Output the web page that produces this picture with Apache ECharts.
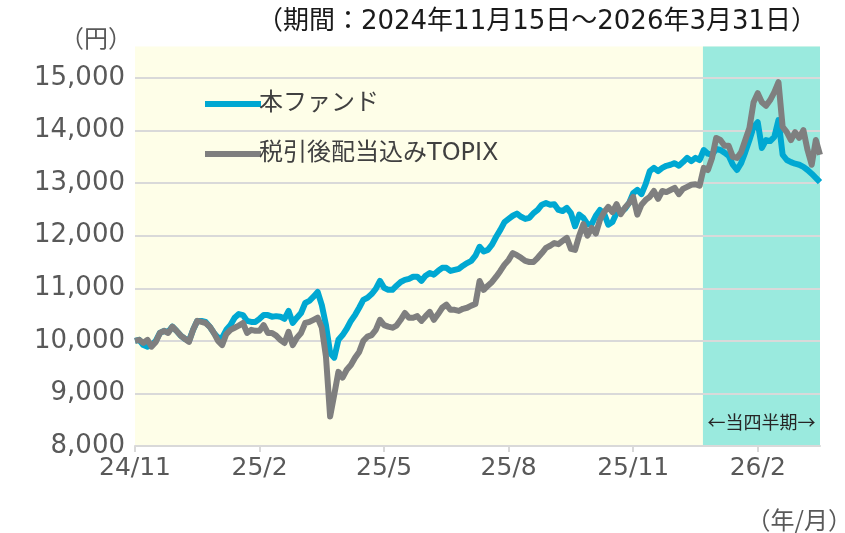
<!DOCTYPE html>
<html>
<head>
<meta charset="utf-8">
<script src="https://cdn.jsdelivr.net/npm/echarts@6/dist/echarts.min.js"></script>
<style>
  html, body { margin: 0; padding: 0; background: #fff; }
  #chart { width: 845px; height: 533px; }
</style>
</head>
<body>
<div id="chart"></div>
<script>
// 基準価額の推移（10,000円スタート）, 2024/11/15 ～ 2026/3/31
var tickLabels = ['24/11', '25/2', '25/5', '25/8', '25/11', '26/2'];
var yTicks = [8000, 9000, 10000, 11000, 12000, 13000, 14000, 15000];
var seriesNames = ['本ファンド', '税引後配当込みTOPIX'];
var quarterStart = 136.8;   // 当四半期の開始位置（x軸の値）

var fundValues = [
  10000, 10020, 9920, 9890, 9920, 10000, 10150, 10190, 10170, 10270,
  10190, 10100, 10040, 10000, 10210, 10380, 10380, 10360, 10270, 10150,
  10060, 10060, 10210, 10300, 10440, 10510, 10490, 10380, 10360, 10360,
  10420, 10490, 10490, 10460, 10470, 10460, 10420, 10570, 10340, 10440,
  10530, 10720, 10760, 10840, 10930, 10680, 10300, 9770, 9680, 10020,
  10110, 10230, 10380, 10490, 10630, 10780, 10820, 10890, 10990, 11140,
  11010, 10970, 10970, 11050, 11120, 11160, 11180, 11220, 11220, 11140,
  11240, 11290, 11260, 11330, 11390, 11390, 11330, 11350, 11370, 11430,
  11480, 11520, 11620, 11790, 11700, 11730, 11830, 11980, 12110, 12260,
  12320, 12380, 12420, 12360, 12320, 12340, 12430, 12490, 12590, 12620,
  12590, 12600, 12490, 12470, 12530, 12430, 12180, 12400, 12340, 12220,
  12220, 12380, 12490, 12420, 12210, 12260, 12430, 12450, 12510, 12620,
  12810, 12870, 12790, 12980, 13230, 13290, 13230, 13290, 13330, 13350,
  13380, 13330, 13400, 13480, 13420, 13480, 13440, 13630, 13560, 13540,
  13650, 13630, 13580, 13520, 13350, 13250, 13380, 13590, 13820, 14070,
  14160, 13670, 13820, 13800, 13880, 14200, 13540, 13440, 13400, 13370,
  13350, 13310, 13250, 13180, 13100, 13020
];

var topixValues = [
  10000, 10020, 9960, 10020, 9890, 9980, 10150, 10190, 10150, 10270,
  10190, 10100, 10040, 9980, 10210, 10380, 10360, 10340, 10270, 10150,
  10000, 9920, 10130, 10210, 10250, 10290, 10340, 10150, 10210, 10190,
  10190, 10300, 10150, 10150, 10100, 10020, 9960, 10170, 9920, 10060,
  10150, 10340, 10360, 10400, 10440, 10250, 9700, 8560, 8980, 9410,
  9300, 9450, 9540, 9680, 9790, 10000, 10080, 10110, 10210, 10400,
  10300, 10270, 10250, 10290, 10400, 10530, 10440, 10440, 10470, 10380,
  10470, 10550, 10400, 10510, 10630, 10690, 10590, 10590, 10570, 10610,
  10630, 10670, 10700, 11140, 10970, 11050, 11120, 11220, 11330, 11450,
  11540, 11670, 11630, 11580, 11520, 11500, 11500, 11580, 11670, 11770,
  11810, 11860, 11840, 11900, 11960, 11750, 11730, 12000, 12220, 12000,
  12150, 12040, 12300, 12450, 12550, 12450, 12600, 12410, 12530, 12620,
  12740, 12400, 12590, 12680, 12740, 12850, 12700, 12850, 12830, 12870,
  12910, 12790, 12890, 12930, 12970, 12980, 12950, 13290, 13250, 13480,
  13860, 13820, 13710, 13710, 13500, 13480, 13590, 13820, 14050, 14540,
  14710, 14540, 14470, 14580, 14730, 14920, 14070, 13970, 13820, 13970,
  13860, 14010, 13630, 13350, 13820, 13540
];

var lastIdx = fundValues.length - 1;
var font = '"DejaVu Sans", "Noto Sans CJK JP", sans-serif';
var cjkFont = '"Noto Sans CJK JP", sans-serif';

var chart = echarts.init(document.getElementById('chart'));

chart.setOption({
  animation: false,
  textStyle: { fontFamily: font },
  grid: { left: 135, right: 25, top: 78, bottom: 87, borderWidth: 0 },
  legend: {
    data: seriesNames,
    orient: 'vertical',
    left: 200, top: 87,
    itemGap: 26,
    itemWidth: 56, itemHeight: 6,
    icon: 'rect',
    textStyle: { fontSize: 24, color: '#404040', fontFamily: font, padding: [0, 0, 0, -7] }
  },
  xAxis: {
    type: 'value',
    min: 0, max: lastIdx, interval: 30,
    axisLine: { lineStyle: { color: '#D9D9D9', width: 2 } },
    axisTick: { show: true, length: 6, lineStyle: { color: '#D9D9D9', width: 2 } },
    splitLine: { show: false },
    axisLabel: {
      fontSize: 25, color: '#595959', margin: 10, fontFamily: font,
      showMaxLabel: false,
      formatter: function (v) { return tickLabels[v / 30] || ''; }
    }
  },
  yAxis: {
    type: 'value',
    min: yTicks[0], max: yTicks[yTicks.length - 1], interval: 1000,
    axisLine: { show: false },
    axisTick: { show: false },
    splitLine: { lineStyle: { color: '#D9D9D9', width: 2 } },
    axisLabel: {
      fontSize: 26, color: '#595959', margin: 10, fontFamily: font,
      formatter: function (v) { return v.toLocaleString('en-US'); }
    }
  },
  series: [
    {
      name: seriesNames[0], type: 'line', z: 3,
      data: fundValues.map(function (v, i) { return [i, v]; }),
      showSymbol: false, symbol: 'none',
      itemStyle: { color: '#00A8D2' },
      lineStyle: { color: '#00A8D2', width: 6, join: 'round' }
    },
    {
      name: seriesNames[1], type: 'line', z: 4,
      data: topixValues.map(function (v, i) { return [i, v]; }),
      showSymbol: false, symbol: 'none',
      itemStyle: { color: '#7F7F7F' },
      lineStyle: { color: '#7F7F7F', width: 6, join: 'round' }
    }
  ]
});

// 背景（黄色）と当四半期の帯（水色）は軸の値から位置を計算する
var p0 = chart.convertToPixel({ gridIndex: 0 }, [0, yTicks[0]]);
var p1 = chart.convertToPixel({ gridIndex: 0 }, [lastIdx, 15600]);
var pq = chart.convertToPixel({ gridIndex: 0 }, [quarterStart, 8450]);

chart.setOption({
  graphic: [
    { type: 'rect', z: -10, silent: true,
      shape: { x: p0[0], y: p1[1], width: p1[0] - p0[0], height: p0[1] - p1[1] },
      style: { fill: '#FEFEE8' } },
    { type: 'rect', z: -9, silent: true,
      shape: { x: pq[0], y: p1[1], width: p1[0] - pq[0], height: p0[1] - p1[1] },
      style: { fill: '#9AEADE' } },
    { type: 'text', z: 10, silent: true,
      x: (pq[0] + p1[0]) / 2, y: pq[1],
      style: { text: '←当四半期→', fontSize: 18, fill: '#262626', fontFamily: cjkFont,
               align: 'center', verticalAlign: 'middle' } },
    { type: 'text', silent: true, x: 537, y: 22,
      style: { text: '（期間：2024年11月15日～2026年3月31日）', fontSize: 26, fill: '#1a1a1a',
               fontFamily: font, align: 'center', verticalAlign: 'middle' } },
    { type: 'text', silent: true, x: 96, y: 38,
      style: { text: '（円）', fontSize: 24, fill: '#595959', fontFamily: cjkFont,
               align: 'center', verticalAlign: 'middle' } },
    { type: 'text', silent: true, x: 852, y: 520,
      style: { text: '（年/月）', fontSize: 24, fill: '#595959', fontFamily: cjkFont,
               align: 'right', verticalAlign: 'middle' } }
  ]
});
</script>
</body>
</html>
